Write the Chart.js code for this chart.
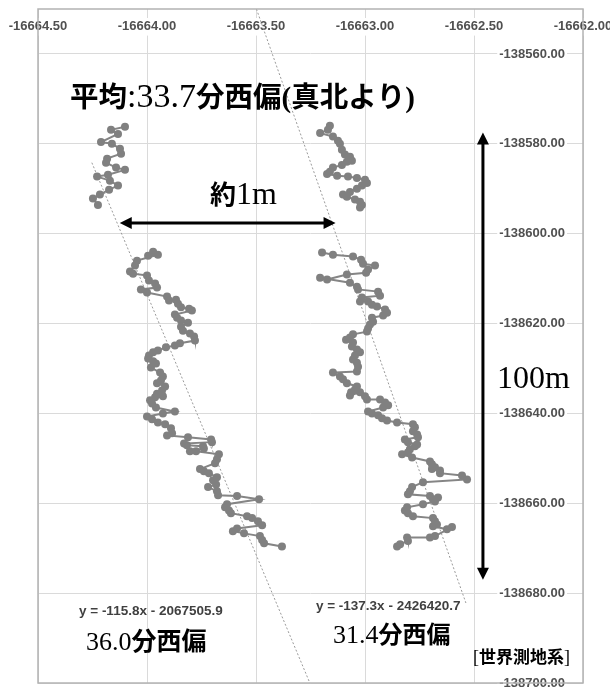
<!DOCTYPE html>
<html>
<head>
<meta charset="utf-8">
<script src="https://cdn.jsdelivr.net/npm/chart.js@4.4.1/dist/chart.umd.min.js"></script>
<style>
  html, body { margin: 0; padding: 0; background: #fff; }
  canvas { display: block; }
</style>
</head>
<body>
<canvas id="chart" width="610" height="687"></canvas>
<script>
// ---- axis ticks ----
const xTicks = [-16664.5, -16664.0, -16663.5, -16663.0, -16662.5, -16662.0];
const yTicks = [-138700, -138680, -138660, -138640, -138620, -138600, -138580, -138560];

// ---- left track [x, y] ----
const leftUpper = [
  [-16664.101, -138576.2], [-16664.165, -138576.9], [-16664.133, -138577.8], [-16664.211, -138579.6],
  [-16664.161, -138580.0], [-16664.124, -138581.1], [-16664.119, -138582.2], [-16664.183, -138583.3],
  [-16664.188, -138584.2], [-16664.142, -138585.3], [-16664.101, -138585.8], [-16664.179, -138586.9],
  [-16664.229, -138587.3], [-16664.170, -138588.2], [-16664.133, -138589.3], [-16664.174, -138590.2],
  [-16664.216, -138591.3], [-16664.248, -138592.2], [-16664.225, -138593.6]
];
const leftLower = [
  [-16663.972, -138604.0], [-16663.995, -138604.9], [-16663.950, -138604.7], [-16664.046, -138606.0],
  [-16664.055, -138607.1], [-16664.078, -138608.4], [-16664.064, -138608.9], [-16664.000, -138609.3],
  [-16663.991, -138610.4], [-16663.963, -138611.1], [-16663.954, -138612.0], [-16664.028, -138612.4],
  [-16664.000, -138613.1], [-16663.908, -138614.0], [-16663.899, -138614.9], [-16663.867, -138614.7],
  [-16663.858, -138615.6], [-16663.844, -138616.4], [-16663.807, -138616.7], [-16663.794, -138617.1],
  [-16663.872, -138618.0], [-16663.862, -138618.7], [-16663.844, -138619.3], [-16663.812, -138619.8],
  [-16663.844, -138620.7], [-16663.835, -138621.6], [-16663.803, -138622.2], [-16663.784, -138622.9],
  [-16663.780, -138623.8], [-16663.849, -138624.4], [-16663.872, -138624.9], [-16663.913, -138625.3],
  [-16663.950, -138626.0], [-16663.972, -138626.4], [-16663.991, -138627.1], [-16663.995, -138627.8],
  [-16663.972, -138628.4], [-16663.959, -138628.9], [-16663.982, -138629.8], [-16663.940, -138630.9],
  [-16663.927, -138631.8], [-16663.936, -138632.7], [-16663.954, -138633.3], [-16663.917, -138634.0],
  [-16663.931, -138634.9], [-16663.954, -138635.6], [-16663.927, -138636.2], [-16663.963, -138636.4],
  [-16663.986, -138637.1], [-16663.977, -138637.8], [-16663.959, -138638.7], [-16663.872, -138639.6],
  [-16663.927, -138640.0], [-16664.000, -138640.7], [-16663.977, -138641.3], [-16663.950, -138642.0],
  [-16663.917, -138642.4], [-16663.890, -138643.3], [-16663.885, -138644.4], [-16663.908, -138644.9],
  [-16663.812, -138645.3], [-16663.706, -138645.8], [-16663.702, -138646.4], [-16663.830, -138646.7],
  [-16663.817, -138647.1], [-16663.743, -138647.3], [-16663.739, -138647.8], [-16663.803, -138648.4],
  [-16663.775, -138648.4], [-16663.670, -138649.1], [-16663.679, -138650.2], [-16663.688, -138651.1],
  [-16663.757, -138652.4], [-16663.739, -138652.9], [-16663.716, -138653.3], [-16663.679, -138654.2],
  [-16663.697, -138654.9], [-16663.683, -138655.8], [-16663.720, -138656.4], [-16663.679, -138657.3],
  [-16663.674, -138658.2], [-16663.587, -138658.4], [-16663.486, -138659.1], [-16663.633, -138660.2],
  [-16663.642, -138660.9], [-16663.624, -138661.6], [-16663.615, -138662.2], [-16663.541, -138662.9],
  [-16663.518, -138663.3], [-16663.491, -138664.0], [-16663.472, -138664.9], [-16663.587, -138665.6],
  [-16663.606, -138666.2], [-16663.555, -138666.7], [-16663.482, -138667.3], [-16663.472, -138668.2],
  [-16663.463, -138668.9], [-16663.381, -138669.6]
];

// ---- right track [x, y] ----
const rightUpper = [
  [-16663.161, -138576.0], [-16663.170, -138576.9], [-16663.206, -138577.6], [-16663.147, -138578.4],
  [-16663.124, -138579.3], [-16663.115, -138580.0], [-16663.106, -138581.3], [-16663.092, -138582.4],
  [-16663.069, -138582.9], [-16663.060, -138583.8], [-16663.083, -138584.0], [-16663.106, -138584.7],
  [-16663.147, -138585.3], [-16663.161, -138586.2], [-16663.174, -138586.7], [-16663.128, -138587.1],
  [-16663.078, -138587.3], [-16663.037, -138587.6], [-16663.000, -138588.0], [-16662.991, -138588.7],
  [-16663.014, -138589.3], [-16663.037, -138590.0], [-16663.069, -138590.7], [-16663.101, -138591.3],
  [-16663.083, -138591.8], [-16663.046, -138592.4], [-16663.023, -138592.9], [-16663.014, -138593.6],
  [-16663.023, -138594.2]
];
const rightLower = [
  [-16663.197, -138604.2], [-16663.147, -138604.7], [-16663.055, -138605.1], [-16663.018, -138605.8],
  [-16663.009, -138606.7], [-16662.954, -138607.1], [-16662.986, -138608.0], [-16662.995, -138608.7],
  [-16663.083, -138609.1], [-16663.174, -138610.2], [-16663.206, -138609.8], [-16663.069, -138610.9],
  [-16663.037, -138611.8], [-16663.032, -138612.4], [-16662.940, -138612.9], [-16662.931, -138613.8],
  [-16663.014, -138614.2], [-16663.023, -138615.1], [-16662.986, -138615.1], [-16662.968, -138615.8],
  [-16662.945, -138616.2], [-16662.908, -138616.9], [-16662.899, -138617.6], [-16662.917, -138618.2],
  [-16662.968, -138618.7], [-16662.963, -138619.6], [-16662.977, -138620.2], [-16662.986, -138621.1],
  [-16662.991, -138621.8], [-16663.055, -138622.4], [-16663.069, -138623.1], [-16663.087, -138623.6],
  [-16663.055, -138624.2], [-16663.060, -138625.1], [-16663.037, -138625.8], [-16663.023, -138626.4],
  [-16663.046, -138627.1], [-16663.055, -138628.0], [-16663.037, -138628.7], [-16663.032, -138629.6],
  [-16663.037, -138630.7], [-16663.147, -138630.9], [-16663.115, -138631.8], [-16663.101, -138632.4],
  [-16663.083, -138633.3], [-16663.037, -138634.0], [-16663.046, -138634.7], [-16663.064, -138635.3],
  [-16663.069, -138636.0], [-16663.023, -138635.3], [-16663.000, -138636.2], [-16662.991, -138636.9],
  [-16662.931, -138636.9], [-16662.908, -138637.6], [-16662.894, -138638.2], [-16662.917, -138638.7],
  [-16662.986, -138639.6], [-16662.968, -138640.0], [-16662.940, -138640.4], [-16662.922, -138641.1],
  [-16662.899, -138641.6], [-16662.853, -138642.0], [-16662.780, -138642.4], [-16662.771, -138643.1],
  [-16662.780, -138644.0], [-16662.761, -138644.7], [-16662.757, -138645.3], [-16662.817, -138645.8],
  [-16662.803, -138646.4], [-16662.761, -138646.9], [-16662.771, -138647.3], [-16662.794, -138648.0],
  [-16662.803, -138648.7], [-16662.830, -138649.1], [-16662.784, -138649.8], [-16662.702, -138650.7],
  [-16662.693, -138651.3], [-16662.679, -138652.0], [-16662.693, -138652.4], [-16662.656, -138652.7],
  [-16662.656, -138653.3], [-16662.555, -138653.8], [-16662.532, -138654.7], [-16662.734, -138655.3],
  [-16662.784, -138656.4], [-16662.794, -138657.3], [-16662.803, -138658.0], [-16662.702, -138658.4],
  [-16662.688, -138659.1], [-16662.665, -138658.7], [-16662.679, -138659.6], [-16662.734, -138660.2],
  [-16662.807, -138660.9], [-16662.817, -138661.6], [-16662.803, -138662.2], [-16662.780, -138662.9],
  [-16662.688, -138663.3], [-16662.679, -138664.0], [-16662.670, -138664.7], [-16662.688, -138665.1],
  [-16662.624, -138665.8], [-16662.601, -138665.3], [-16662.679, -138667.3], [-16662.702, -138667.6],
  [-16662.807, -138667.6], [-16662.803, -138668.4], [-16662.839, -138669.1], [-16662.853, -138669.6]
];

// ---- linear trend lines (ends) ----
const leftTrend = [[-16664.253, -138584.2], [-16663.253, -138700.0]];
const rightTrend = [[-16663.498, -138550.0], [-16662.537, -138682.2]];

// ---- annotations (data coords) ----
const arrows = [
  { from: [-16664.125, -138597.6], to: [-16663.135, -138597.6] },
  { from: [-16662.459, -138577.5], to: [-16662.459, -138677.0] }
];

const CJK = '"Noto Sans CJK JP"';
const SERIF = '"Liberation Serif"';
const SANS = '"Liberation Sans"';

const notes = [
  { at: [-16664.353, -138571.8], runs: [
    ['平均', 'bold 28.5px ' + CJK], [':33.7', '34px ' + SERIF], ['分西偏', 'bold 28.5px ' + CJK],
    ['(', 'bold 29px ' + SERIF], ['真北より', 'bold 28.5px ' + CJK], [')', 'bold 29px ' + SERIF]] },
  { at: [-16663.711, -138593.3], runs: [['約', 'bold 26px ' + CJK], ['1m', '32px ' + SERIF]] },
  { at: [-16662.394, -138634.4], runs: [['100m', '32px ' + SERIF]] },
  { at: [-16664.312, -138684.0], base: 'middle', color: '#404040',
    runs: [['y = -115.8x - 2067505.9', 'bold 13.5px ' + SANS]] },
  { at: [-16664.280, -138692.7], runs: [['36.0', '26px ' + SERIF], ['分西偏', 'bold 25px ' + CJK]] },
  { at: [-16663.225, -138682.9], base: 'middle', color: '#404040',
    runs: [['y = -137.3x - 2426420.7', 'bold 13.5px ' + SANS]] },
  { at: [-16663.147, -138691.1], runs: [['31.4', '26px ' + SERIF], ['分西偏', 'bold 24px ' + CJK]] },
  { at: [-16662.505, -138695.6], runs: [['[', '18px ' + SERIF], ['世界測地系', 'bold 17px ' + CJK], [']', '18px ' + SERIF]] }
];

function pts(arr) { return arr.map(([x, y]) => ({ x, y })); }

function track(arr) {
  return {
    data: pts(arr),
    showLine: true,
    borderColor: "#858585",
    borderWidth: 2,
    pointRadius: 4,
    pointBackgroundColor: "#808080",
    pointBorderWidth: 0,
    tension: 0
  };
}
function trend(arr) {
  return {
    data: pts(arr),
    showLine: true,
    borderColor: "#9a9a9a",
    borderWidth: 1,
    borderDash: [2, 2],
    pointRadius: 0
  };
}

function drawArrow(ctx, x1, y1, x2, y2) {
  const ang = Math.atan2(y2 - y1, x2 - x1);
  const len = 12, hw = 6;
  ctx.beginPath();
  ctx.moveTo(x1 + Math.cos(ang) * len * 0.8, y1 + Math.sin(ang) * len * 0.8);
  ctx.lineTo(x2 - Math.cos(ang) * len * 0.8, y2 - Math.sin(ang) * len * 0.8);
  ctx.stroke();
  [[x2, y2, ang], [x1, y1, ang + Math.PI]].forEach(([tx, ty, a]) => {
    ctx.beginPath();
    ctx.moveTo(tx, ty);
    ctx.lineTo(tx - Math.cos(a) * len + Math.sin(a) * hw, ty - Math.sin(a) * len - Math.cos(a) * hw);
    ctx.lineTo(tx - Math.cos(a) * len - Math.sin(a) * hw, ty - Math.sin(a) * len + Math.cos(a) * hw);
    ctx.closePath();
    ctx.fill();
  });
}

const annotPlugin = {
  id: "annot",
  afterDraw(chart) {
    const { ctx, chartArea: a, scales: { x, y } } = chart;
    ctx.save();
    // outer box
    ctx.strokeStyle = "#b3b3b3";
    ctx.lineWidth = 1.5;
    ctx.strokeRect(a.left, a.top, a.right - a.left, a.bottom - a.top);

    // arrows
    ctx.strokeStyle = "#000";
    ctx.fillStyle = "#000";
    ctx.lineWidth = 3;
    arrows.forEach(ar => {
      drawArrow(ctx,
        x.getPixelForValue(ar.from[0]), y.getPixelForValue(ar.from[1]),
        x.getPixelForValue(ar.to[0]), y.getPixelForValue(ar.to[1]));
    });

    // texts
    notes.forEach(n => {
      let px = x.getPixelForValue(n.at[0]);
      const py = y.getPixelForValue(n.at[1]);
      ctx.textBaseline = n.base || "alphabetic";
      ctx.textAlign = "left";
      ctx.fillStyle = n.color || "#000";
      n.runs.forEach(([t, f]) => {
        ctx.font = f;
        ctx.fillText(t, px, py);
        px += ctx.measureText(t).width;
      });
    });
    ctx.restore();
  }
};

const tickFont = { family: "Liberation Sans", size: 13, weight: "bold" };

new Chart(document.getElementById("chart").getContext("2d"), {
  type: "scatter",
  data: {
    datasets: [
      track(leftUpper), track(leftLower),
      track(rightUpper), track(rightLower),
      trend(leftTrend), trend(rightTrend)
    ]
  },
  options: {
    responsive: false,
    animation: false,
    devicePixelRatio: 1,
    layout: { padding: { left: 38, right: 27, top: 9, bottom: 3 } },
    scales: {
      x: {
        type: "linear",
        position: "top",
        min: -16664.5,
        max: -16662,
        afterBuildTicks: s => { s.ticks = xTicks.map(v => ({ value: v })); },
        afterFit: s => { s.height = 0; s.paddingLeft = 0; s.paddingRight = 0; },
        ticks: {
          mirror: true,
          padding: 10,
          maxRotation: 0,
          autoSkip: false,
          font: tickFont,
          color: "#505050",
          showLabelBackdrop: true,
          backdropColor: "#fff",
          backdropPadding: { x: 2, y: 1 },
          callback: v => Number(v).toFixed(2)
        },
        grid: { color: "#dadada", drawTicks: false },
        border: { display: false }
      },
      y: {
        type: "linear",
        position: "right",
        min: -138700,
        max: -138550,
        afterBuildTicks: s => { s.ticks = yTicks.map(v => ({ value: v })); },
        afterFit: s => { s.width = 0; s.paddingTop = 0; s.paddingBottom = 0; },
        ticks: {
          mirror: true,
          padding: -18,
          autoSkip: false,
          font: tickFont,
          color: "#505050",
          showLabelBackdrop: true,
          backdropColor: "#fff",
          backdropPadding: { x: 2, y: 1 },
          callback: v => Number(v).toFixed(2)
        },
        grid: { color: "#dadada", drawTicks: false },
        border: { display: false }
      }
    },
    plugins: {
      legend: { display: false },
      tooltip: { enabled: false }
    }
  },
  plugins: [annotPlugin]
});
</script>
</body>
</html>
